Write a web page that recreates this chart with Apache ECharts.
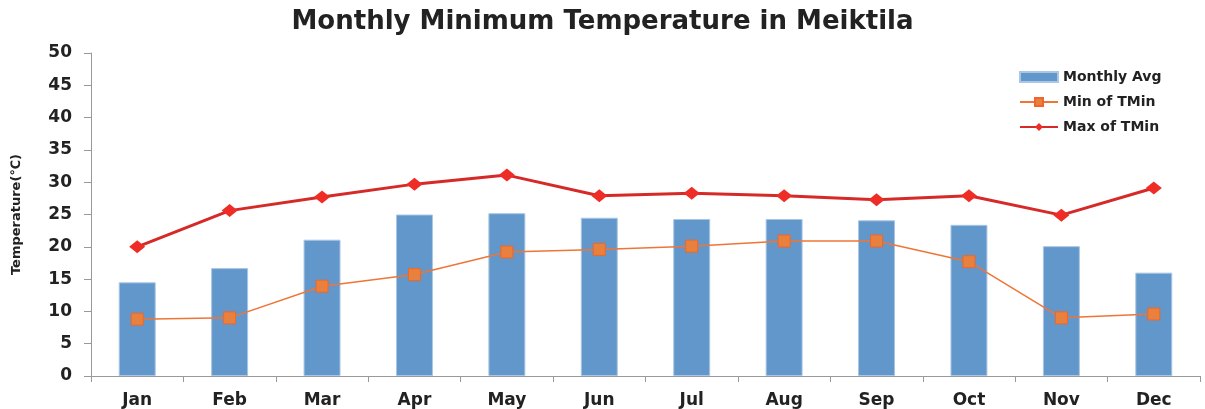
<!DOCTYPE html>
<html>
<head>
<meta charset="utf-8">
<script src="https://cdn.jsdelivr.net/npm/echarts@6/dist/echarts.min.js"></script>
<style>
  html, body { margin: 0; padding: 0; background: #fff; }
  #main { width: 1205px; height: 409px; }
</style>
</head>
<body>
<div id="main"></div>
<script>
var months = ['Jan','Feb','Mar','Apr','May','Jun','Jul','Aug','Sep','Oct','Nov','Dec'];
var monthlyAvg = [14.5, 16.7, 21.1, 25.0, 25.2, 24.5, 24.3, 24.3, 24.1, 23.4, 20.1, 16.0];
var minOfTMin = [8.8, 9.0, 13.9, 15.7, 19.2, 19.6, 20.1, 20.9, 20.9, 17.7, 9.0, 9.6];
var maxOfTMin = [20.0, 25.6, 27.7, 29.7, 31.1, 27.9, 28.3, 27.9, 27.3, 27.9, 24.9, 29.1];

var myChart = echarts.init(document.getElementById('main'));

var option = {
  animation: false,
  title: {
    text: 'Monthly Minimum Temperature in Meiktila',
    left: 'center',
    top: 4,
    textStyle: { fontFamily: 'DejaVu Sans', fontWeight: 'bold', fontSize: 26, color: '#222' }
  },
  legend: {
    orient: 'vertical',
    left: 1014,
    top: 65,
    itemGap: 11,
    itemWidth: 38,
    itemHeight: 10,
    textStyle: { fontFamily: 'DejaVu Sans', fontWeight: 'bold', fontSize: 14, color: '#222' },
    data: [
      { name: 'Monthly Avg', icon: 'rect' },
      { name: 'Min of TMin' },
      { name: 'Max of TMin' }
    ]
  },
  grid: { left: 91, right: 5, top: 53, bottom: 32 },
  xAxis: {
    type: 'category',
    data: months,
    axisLine: { lineStyle: { color: '#999' } },
    axisTick: { show: true, length: 6, lineStyle: { color: '#999' } },
    axisLabel: { fontFamily: 'DejaVu Sans', fontWeight: 'bold', fontSize: 17, color: '#222', margin: 16 }
  },
  yAxis: {
    type: 'value',
    min: 0,
    max: 50,
    interval: 5,
    name: 'Temperature(℃)',
    nameLocation: 'middle',
    nameGap: 68,
    nameTextStyle: { fontFamily: 'DejaVu Sans', fontWeight: 'bold', fontSize: 13, color: '#222' },
    axisLine: { show: true, lineStyle: { color: '#999' } },
    axisTick: { show: true, length: 7, lineStyle: { color: '#999' } },
    splitLine: { show: false },
    axisLabel: { fontFamily: 'DejaVu Sans', fontWeight: 'bold', fontSize: 17, color: '#222', margin: 19 }
  },
  series: [
    {
      name: 'Monthly Avg',
      type: 'bar',
      barWidth: '40%',
      data: monthlyAvg,
      itemStyle: { color: '#6197CA', borderColor: '#A9C6E4', borderWidth: 1 }
    },
    {
      name: 'Min of TMin',
      type: 'line',
      data: minOfTMin,
      symbol: 'rect',
      symbolSize: 12,
      lineStyle: { color: '#F07535', width: 1.5 },
      itemStyle: { color: '#E8803E', borderColor: '#F0662A', borderWidth: 1 }
    },
    {
      name: 'Max of TMin',
      type: 'line',
      data: maxOfTMin,
      symbol: 'diamond',
      symbolSize: [16, 13],
      lineStyle: { color: '#D62A28', width: 3 },
      itemStyle: { color: '#EE2E26' }
    }
  ]
};

myChart.setOption(option);
</script>
</body>
</html>
